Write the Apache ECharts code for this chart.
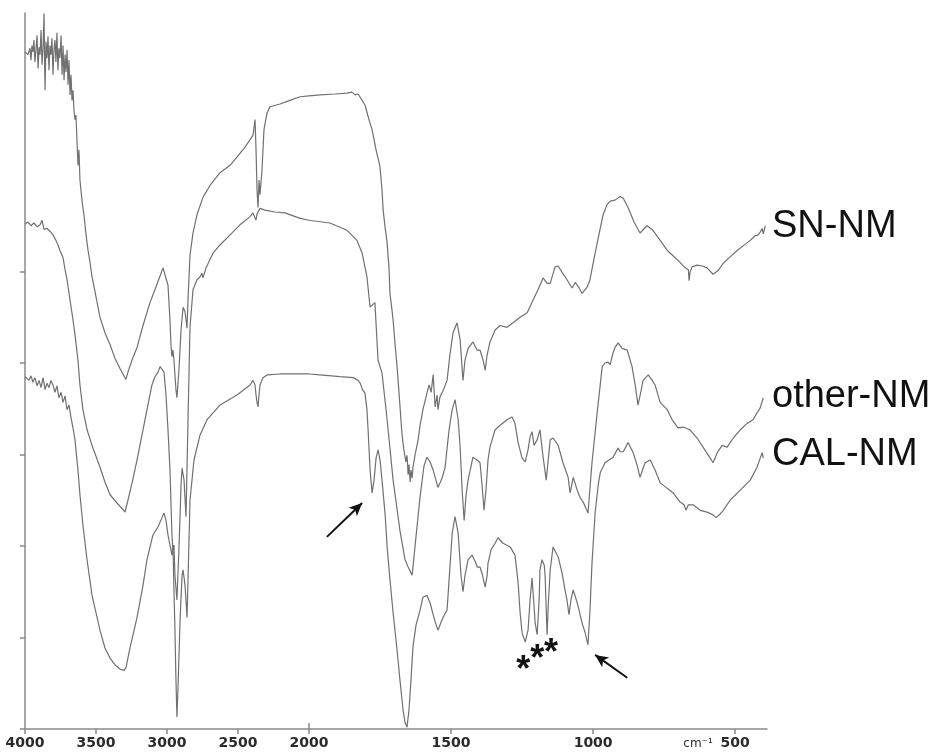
<!DOCTYPE html>
<html>
<head>
<meta charset="utf-8">
<script src="https://cdn.jsdelivr.net/npm/echarts@6/dist/echarts.min.js"></script>
<style>
  html, body { margin: 0; padding: 0; background: #ffffff; }
  #chart { width: 938px; height: 754px; }
</style>
</head>
<body>
<div id="chart"></div>
<script>
// FTIR spectra: [wavenumber (cm-1), transmittance (arbitrary units)]
const snNM = [
  [4000,74.0],[3986,74.2],[3979,73.7],[3965,74.4],[3958,73.1],[3951,74.7],[3944,74.0],[3937,75.3],[3930,72.9],[3923,74.2],
  [3915,75.8],[3908,72.2],[3901,74.5],[3894,73.7],[3887,76.4],[3880,72.6],[3873,74.4],[3866,78.2],[3859,69.8],[3852,75.1],
  [3845,73.3],[3838,75.7],[3831,72.0],[3824,74.7],[3817,73.7],[3810,75.5],[3803,71.5],[3796,74.2],[3789,75.3],[3782,72.9],
  [3775,76.1],[3768,72.0],[3761,74.4],[3754,73.3],[3746,75.8],[3739,71.5],[3732,74.7],[3725,70.9],[3718,73.7],[3711,71.8],
  [3704,74.2],[3697,70.4],[3690,73.1],[3683,69.3],[3676,71.5],[3669,68.7],[3662,69.8],[3655,67.6],[3648,66.6],[3641,67.1],
  [3634,64.4],[3627,61.6],[3620,63.3],[3613,60.0],[3599,57.8],[3585,56.2],[3570,54.0],[3556,52.3],[3542,51.0],[3528,49.4],
  [3507,47.8],[3472,45.0],[3437,43.3],[3401,42.0],[3366,40.5],[3331,39.4],[3303,38.6],[3289,38.2],[3275,39.0],[3247,40.3],
  [3211,41.7],[3169,44.1],[3120,46.6],[3085,48.0],[3049,49.5],[3028,50.4],[3014,50.2],[2993,48.5],[2979,44.7],[2972,42.0],
  [2965,40.7],[2958,41.4],[2951,40.3],[2937,37.1],[2930,36.2],[2916,39.2],[2901,43.6],[2887,46.1],[2873,45.6],[2859,43.8],
  [2852,46.9],[2838,51.8],[2817,54.2],[2789,56.2],[2747,58.1],[2697,59.4],[2627,60.8],[2556,61.6],[2507,62.5],[2451,63.6],
  [2394,64.9],[2380,66.6],[2373,63.3],[2366,58.9],[2359,57.0],[2352,60.0],[2345,58.4],[2331,61.1],[2317,65.5],[2296,67.3],
  [2275,68.0],[2204,68.3],[2134,68.7],[2063,69.1],[2000,69.2],
  [1961,69.3],[1908,69.4],[1866,69.5],[1849,69.6],[1838,69.3],[1827,69.4],[1813,68.7],[1803,68.2],[1796,67.4],[1789,66.6],
  [1778,65.5],[1771,64.4],[1764,63.3],[1757,62.4],[1750,61.4],[1743,58.9],[1739,56.7],[1732,54.8],[1725,53.1],[1718,50.2],
  [1715,47.6],[1708,45.8],[1704,44.7],[1697,42.0],[1690,39.6],[1680,35.4],[1673,32.3],[1666,30.5],[1659,29.2],[1655,29.9],
  [1651,27.8],[1648,28.9],[1644,27.0],[1641,28.3],[1637,27.4],[1634,28.6],[1627,29.9],[1616,31.6],[1609,33.2],[1599,34.9],
  [1585,36.7],[1577,37.6],[1570,36.8],[1563,38.7],[1556,35.2],[1549,36.5],[1546,34.9],[1539,36.3],[1528,37.0],[1514,38.1],
  [1504,40.9],[1493,43.3],[1479,44.4],[1468,42.5],[1458,38.1],[1451,40.3],[1440,41.6],[1423,42.3],[1408,41.4],[1398,41.4],
  [1387,40.3],[1380,39.2],[1373,40.9],[1363,42.3],[1345,43.6],[1327,44.1],[1303,43.9],[1282,44.4],[1257,45.0],[1232,45.5],
  [1211,46.9],[1194,48.0],[1176,49.3],[1162,48.7],[1151,48.7],[1134,50.5],[1123,50.6],[1109,49.9],[1092,49.1],[1074,48.2],
  [1063,48.8],[1049,48.2],[1039,47.6],[1021,48.3],[1011,49.1],[993,52.0],[975,54.7],[965,56.2],[951,57.3],[940,57.7],
  [923,57.8],[905,58.2],[894,58.0],[877,57.0],[856,55.4],[835,54.2],[820,54.7],[810,55.0],[792,54.6],[764,53.4],
  [739,52.3],[711,51.5],[694,51.0],[676,50.4],[665,50.2],[662,49.0],[659,49.9],[652,50.5],[634,50.7],[616,50.6],
  [599,50.4],[578,49.7],[560,50.1],[542,50.9],[518,51.6],[493,52.3],[472,52.8],[447,53.4],[430,53.9],[419,54.0],
  [412,54.3],[405,54.7],[401,54.1],[394,55.0]
];

const otherNM = [
  [4000,55.2],[3979,55.4],[3958,55.0],[3937,55.3],[3915,54.9],[3894,55.1],[3880,55.6],[3866,54.6],[3845,54.7],[3824,54.4],
  [3803,54.0],[3782,53.4],[3768,52.9],[3754,52.3],[3732,51.5],[3718,50.2],[3704,49.1],[3683,46.9],[3662,44.7],[3648,43.1],
  [3627,40.3],[3613,37.6],[3592,34.9],[3563,32.7],[3528,31.0],[3472,28.6],[3437,27.0],[3401,25.6],[3352,24.7],[3317,24.1],
  [3296,23.7],[3275,25.0],[3239,27.4],[3211,29.4],[3169,32.7],[3141,34.9],[3106,37.6],[3085,38.5],[3063,39.0],[3049,39.6],
  [3035,39.8],[3021,39.0],[3007,36.5],[2993,32.7],[2979,28.3],[2965,21.2],[2958,19.6],[2951,20.1],[2944,16.8],[2930,14.1],
  [2916,19.6],[2901,26.7],[2894,28.5],[2880,27.2],[2866,23.2],[2852,33.8],[2838,43.9],[2817,48.0],[2789,49.1],[2768,49.4],
  [2754,49.8],[2747,49.3],[2725,50.4],[2676,52.0],[2627,52.9],[2556,54.0],[2486,55.1],[2415,56.0],[2394,56.4],[2380,56.2],
  [2373,55.6],[2366,56.3],[2345,56.9],[2310,56.7],[2239,56.5],[2169,56.4],[2063,55.8],[2000,55.6],
  [1926,55.3],[1866,54.5],[1831,53.4],[1813,52.0],[1796,49.4],[1785,46.1],[1778,46.3],[1768,46.6],[1757,40.3],[1743,38.9],
  [1725,33.8],[1704,27.2],[1680,21.7],[1662,18.5],[1651,17.7],[1637,16.8],[1627,19.9],[1609,25.4],[1595,28.8],[1585,29.7],
  [1574,29.2],[1563,28.3],[1546,26.4],[1532,27.4],[1521,28.6],[1507,32.7],[1496,34.9],[1486,36.0],[1475,33.8],[1468,30.8],
  [1461,26.1],[1454,22.8],[1447,25.6],[1440,27.2],[1423,29.7],[1408,29.4],[1398,29.1],[1391,26.7],[1384,23.9],[1377,26.1],
  [1370,29.4],[1363,30.8],[1345,32.7],[1327,33.2],[1303,33.8],[1285,34.1],[1275,33.4],[1264,31.3],[1250,29.6],[1239,29.2],
  [1229,30.5],[1222,31.9],[1215,32.5],[1208,31.0],[1204,30.8],[1197,31.6],[1187,32.7],[1176,29.7],[1165,27.2],[1158,29.4],
  [1151,31.6],[1141,31.8],[1123,31.0],[1106,29.1],[1088,27.5],[1081,25.8],[1070,27.5],[1056,26.1],[1046,25.3],[1035,24.8],
  [1018,23.6],[1004,29.1],[986,34.5],[968,39.6],[958,40.0],[947,40.1],[940,39.8],[930,41.1],[923,41.7],[912,42.2],
  [898,41.6],[880,41.4],[863,39.6],[852,37.6],[842,35.4],[831,37.0],[824,38.1],[806,38.7],[792,38.1],[782,37.6],
  [764,35.7],[739,34.9],[722,33.8],[701,32.9],[683,33.0],[659,32.7],[634,31.8],[613,30.8],[588,29.6],[578,29.1],
  [563,30.2],[546,31.0],[528,30.8],[507,31.8],[482,32.7],[458,33.4],[437,33.8],[426,34.4],[419,34.5],[412,35.1],
  [405,35.3],[401,36.2]
];

const calNM = [
  [4000,38.5],[3986,38.7],[3972,38.1],[3958,38.6],[3944,37.9],[3930,38.4],[3915,37.5],[3901,38.1],[3887,37.3],[3873,38.4],
  [3859,37.1],[3845,37.8],[3831,37.3],[3817,38.1],[3803,37.6],[3789,36.8],[3775,37.5],[3761,36.2],[3746,36.8],[3732,35.7],
  [3718,36.4],[3704,34.9],[3690,35.4],[3676,34.0],[3662,32.9],[3648,31.6],[3627,28.3],[3613,25.6],[3592,22.3],[3563,18.5],
  [3528,14.6],[3472,10.8],[3437,8.85],[3401,7.75],[3366,7.0],[3331,6.55],[3303,6.4],[3289,6.7],[3261,8.85],[3211,12.2],
  [3169,15.7],[3141,18.5],[3099,21.2],[3063,22.1],[3035,23.1],[3021,23.6],[3007,22.8],[2993,21.2],[2979,20.1],[2965,19.0],
  [2958,20.1],[2951,15.2],[2944,10.8],[2937,5.4],[2930,1.3],[2923,4.3],[2908,11.9],[2894,16.8],[2887,17.4],[2873,15.7],
  [2859,12.2],[2852,16.3],[2838,25.0],[2810,29.4],[2768,32.1],[2718,33.8],[2627,35.4],[2507,36.5],[2415,37.6],[2394,38.1],
  [2380,37.6],[2373,36.5],[2366,35.7],[2359,35.2],[2352,36.5],[2345,37.6],[2324,38.4],[2296,38.7],[2204,38.8],[2063,38.8],
  [2000,38.8],
  [1961,38.7],[1891,38.5],[1845,38.4],[1827,38.1],[1820,37.8],[1810,37.0],[1803,36.7],[1796,34.9],[1792,32.7],[1785,28.3],
  [1778,25.8],[1771,27.2],[1764,29.6],[1757,30.5],[1750,29.4],[1743,27.2],[1732,23.4],[1725,19.9],[1715,16.3],[1704,12.7],
  [1690,8.6],[1680,5.4],[1669,2.1],[1662,0.7],[1655,0.2],[1648,2.1],[1641,5.4],[1634,9.0],[1623,11.4],[1609,13.0],
  [1599,14.4],[1585,14.6],[1574,13.8],[1563,12.5],[1556,11.7],[1546,10.8],[1535,11.7],[1528,12.2],[1514,13.0],[1507,16.3],
  [1496,21.4],[1486,23.2],[1475,21.4],[1465,16.8],[1458,15.0],[1451,16.8],[1440,18.5],[1426,19.0],[1415,18.3],[1408,17.7],
  [1398,17.7],[1391,17.0],[1380,15.5],[1373,16.8],[1370,18.1],[1359,19.6],[1345,20.3],[1335,20.9],[1317,20.3],[1292,19.9],
  [1275,19.0],[1264,16.0],[1257,12.7],[1250,10.5],[1239,9.5],[1229,10.8],[1222,14.1],[1215,16.5],[1208,13.5],[1204,11.6],
  [1197,10.3],[1190,14.1],[1187,17.4],[1180,18.5],[1172,17.9],[1169,16.8],[1165,13.0],[1162,10.3],[1158,13.5],[1151,17.4],
  [1141,19.9],[1123,18.8],[1109,17.0],[1099,15.2],[1092,14.1],[1085,12.5],[1078,14.1],[1070,15.2],[1056,13.8],[1039,11.6],
  [1028,10.5],[1018,9.2],[1011,13.0],[1004,18.1],[993,23.6],[982,26.7],[975,28.0],[958,29.1],[951,29.1],[930,29.7],
  [912,30.7],[905,30.3],[894,30.3],[877,31.3],[859,30.2],[845,28.8],[835,27.5],[824,28.5],[817,29.1],[799,29.4],
  [782,28.3],[764,26.9],[739,26.3],[718,25.8],[694,24.8],[680,24.5],[673,23.9],[665,24.5],[648,24.5],[623,23.9],
  [599,23.7],[578,23.4],[567,23.1],[560,23.2],[553,23.5],[542,23.9],[518,25.0],[482,26.1],[447,27.2],[423,28.6],
  [412,29.6],[405,30.2],[401,29.6]
];

// axis ticks (the wavenumber scale doubles below 2000 cm-1)
const xTicksHigh = [4000, 3500, 3000, 2500, 2000];
const xTicksLow = [1500, 1000, 500];
const yTicks = [0, 10, 20, 30, 40, 50];

// curve names drawn at the right end of each trace
const curveNames = ['SN-NM', 'other-NM', 'CAL-NM'];

// annotations: arrows (tail -> head) and the three starred bands
const arrowLines = [
  [[1937, 21.0], [1813, 24.7]],
  [[880, 5.6], [993, 8.1]]
];
const starBands = [[1246, 7.3], [1197, 8.5], [1148, 9.2]];

const LINE_COLOR = '#707070';
const AXIS_COLOR = '#8a8a8a';
const Y_MAX = 78.25;

const chart = echarts.init(document.getElementById('chart'), null, { renderer: 'canvas' });

function part(data, high) {
  return data.filter(p => high ? p[0] >= 2000 : p[0] <= 2000);
}

const spectra = [snNM, otherNM, calNM];
const series = [];
spectra.forEach((d, i) => {
  [true, false].forEach(high => {
    series.push({
      name: curveNames[i],
      type: 'line',
      xAxisIndex: high ? 0 : 1,
      yAxisIndex: high ? 0 : 1,
      data: part(d, high),
      showSymbol: false,
      symbol: 'none',
      smooth: false,
      lineStyle: { color: LINE_COLOR, width: 1.2 },
      silent: true,
      animation: false
    });
  });
});

// arrows on the low-wavenumber panel
series.push({
  type: 'line', xAxisIndex: 1, yAxisIndex: 1, data: [], silent: true, animation: false,
  markLine: {
    silent: true,
    symbol: ['none', 'arrow'],
    symbolSize: [9, 13],
    label: { show: false },
    lineStyle: { color: '#111', width: 2, type: 'solid' },
    data: arrowLines.map(a => [{ coord: a[0] }, { coord: a[1] }])
  }
});

// asterisks
series.push({
  type: 'line', xAxisIndex: 1, yAxisIndex: 1, data: [], silent: true, animation: false,
  markPoint: {
    silent: true,
    symbol: 'circle',
    symbolSize: 0,
    label: {
      show: true, formatter: '*', position: 'inside',
      fontSize: 36, fontWeight: 'bold', color: '#111',
      fontFamily: 'Liberation Sans', offset: [0, 9]
    },
    data: starBands.map(s => ({ coord: s }))
  }
});

const axisLabelStyle = {
  fontSize: 14, fontWeight: 'bold', color: '#2a2a2a', fontFamily: 'DejaVu Sans', margin: 7,
  formatter: v => String(v)
};

const option = {
  backgroundColor: '#ffffff',
  animation: false,
  grid: [
    { left: 25, top: 13, width: 284, height: 716 },
    { left: 309, top: 13, width: 458, height: 716 }
  ],
  xAxis: [
    {
      gridIndex: 0, type: 'value', inverse: true, min: 2000, max: 4000, interval: 500,
      axisLine: { lineStyle: { color: AXIS_COLOR, width: 1.5 } },
      axisTick: { length: 5, lineStyle: { color: AXIS_COLOR, width: 1.5 } },
      axisLabel: Object.assign({}, axisLabelStyle, { customValues: xTicksHigh }),
      splitLine: { show: false }
    },
    {
      gridIndex: 1, type: 'value', inverse: true, min: 388, max: 2000,
      axisLine: { lineStyle: { color: AXIS_COLOR, width: 1.5 } },
      axisTick: { length: 5, customValues: xTicksLow, lineStyle: { color: AXIS_COLOR, width: 1.5 } },
      axisLabel: Object.assign({}, axisLabelStyle, { customValues: xTicksLow }),
      splitLine: { show: false }
    },
    {
      // scale-change marker at 2000 cm-1
      gridIndex: 1, type: 'value', inverse: true, min: 388, max: 2000, position: 'bottom',
      axisLine: { show: false },
      axisTick: { inside: true, length: 6, customValues: [2000], lineStyle: { color: AXIS_COLOR, width: 1.5 } },
      axisLabel: { show: false },
      splitLine: { show: false }
    }
  ],
  yAxis: [
    {
      gridIndex: 0, type: 'value', min: 0, max: Y_MAX,
      axisLine: { show: true, lineStyle: { color: AXIS_COLOR, width: 1.5 } },
      axisTick: { show: true, length: 5, customValues: yTicks, lineStyle: { color: AXIS_COLOR, width: 1.5 } },
      axisLabel: { show: false },
      splitLine: { show: false }
    },
    {
      gridIndex: 1, type: 'value', min: 0, max: Y_MAX, show: false,
      splitLine: { show: false }
    }
  ],
  graphic: [
    { type: 'text', x: 772, y: 227, style: { text: curveNames[0], font: '38px "Liberation Sans", Arial, sans-serif', fill: '#111', verticalAlign: 'middle' } },
    { type: 'text', x: 772, y: 397, style: { text: curveNames[1], font: '38px "Liberation Sans", Arial, sans-serif', fill: '#111', verticalAlign: 'middle' } },
    { type: 'text', x: 772, y: 455, style: { text: curveNames[2], font: '38px "Liberation Sans", Arial, sans-serif', fill: '#111', verticalAlign: 'middle' } },
    { type: 'text', x: 698, y: 744, style: { text: 'cm⁻¹', font: '12px "DejaVu Sans", sans-serif', fill: '#2a2a2a', align: 'center', verticalAlign: 'middle' } }
  ],
  series: series
};

chart.setOption(option);
</script>
</body>
</html>
